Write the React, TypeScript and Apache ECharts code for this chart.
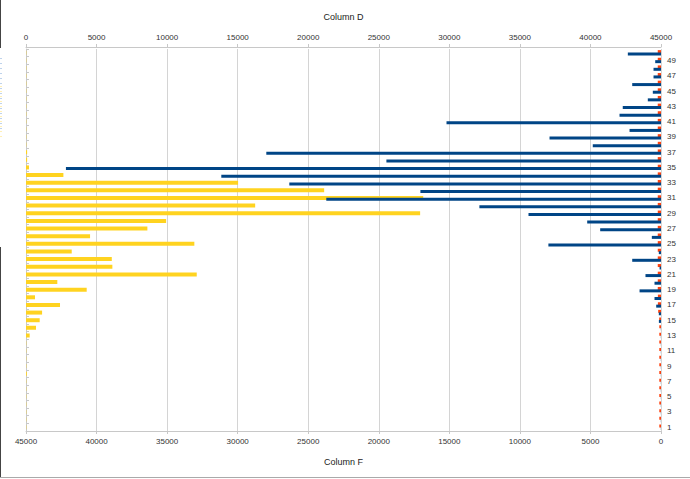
import React, { useEffect, useRef } from "react";
import * as echarts from "echarts";

const categories = [
  "1", "2", "3", "4", "5", "6", "7", "8", "9", "10",
  "11", "12", "13", "14", "15", "16", "17", "18", "19", "20",
  "21", "22", "23", "24", "25", "26", "27", "28", "29", "30",
  "31", "32", "33", "34", "35", "36", "37", "38", "39", "40",
  "41", "42", "43", "44", "45", "46", "47", "48", "49", "50",
];

// Column D (top axis, yellow)
const columnD = [
  20, 20, 20, 20, 20, 20, 20, 60, 20, 20,
  20, 20, 260, 710, 970, 1140, 2410, 640, 4300, 2220,
  12100, 6120, 6080, 3240, 11930, 4540, 8600, 9930, 27930, 16240,
  28150, 21130, 15030, 2650, 210, 80, 80, 20, 20, 20,
  20, 20, 20, 20, 20, 20, 20, 20, 20, 20,
];

// Column F (bottom axis, blue)
const columnF = [
  10, 10, 10, 10, 10, 10, 10, 10, 10, 10,
  10, 10, 10, 10, 150, 155, 340, 460, 1520, 460,
  1100, 100, 2040, 155, 7980, 650, 4310, 5230, 9390, 12870,
  23720, 17050, 26340, 31160, 42170, 19460, 27970, 4835, 7900, 2230,
  15200, 2940, 2710, 935, 580, 2040, 530, 530, 410, 2350,
];

// Column E (bottom axis, red)
const columnE = [
  120, 120, 120, 120, 120, 120, 120, 120, 120, 120,
  120, 120, 120, 120, 130, 200, 220, 220, 230, 230,
  230, 230, 230, 230, 230, 230, 230, 230, 230, 230,
  230, 230, 230, 230, 230, 230, 230, 230, 230, 230,
  230, 230, 230, 230, 230, 230, 230, 230, 230, 230,
];

const FONT = "'Liberation Sans', Arial, sans-serif";

export default function App() {
  const ref = useRef<HTMLDivElement>(null);
  useEffect(() => {
    if (!ref.current) return;
    const chart = echarts.init(ref.current, undefined, { renderer: "svg" });
    const axisLabel = {
      color: "#333",
      fontSize: 8,
      fontFamily: FONT,
      formatter: (v: number | string) => String(v),
    };
    chart.setOption({
      animation: false,
      backgroundColor: "#fff",
      grid: { left: 26, right: 29, top: 49, bottom: 48, containLabel: false },
      xAxis: [
        {
          type: "value",
          position: "top",
          offset: 2,
          min: 0,
          max: 45000,
          interval: 5000,
          name: "Column D",
          nameLocation: "middle",
          nameGap: 26,
          nameTextStyle: { color: "#222", fontSize: 9, fontFamily: FONT },
          axisLine: { show: true, lineStyle: { color: "#c8c8c8" } },
          axisTick: { show: true, length: 3, lineStyle: { color: "#c8c8c8" } },
          axisLabel: { ...axisLabel, margin: 6 },
          splitLine: { show: true, lineStyle: { color: "#d4d4d4" } },
        },
        {
          type: "value",
          position: "bottom",
          inverse: true,
          min: 0,
          max: 45000,
          interval: 5000,
          name: "Column F",
          nameLocation: "middle",
          nameGap: 26,
          nameTextStyle: { color: "#222", fontSize: 9, fontFamily: FONT },
          axisLine: { show: true, lineStyle: { color: "#c8c8c8" } },
          axisTick: { show: true, length: 3, lineStyle: { color: "#c8c8c8" } },
          axisLabel: { ...axisLabel, margin: 6 },
          splitLine: { show: false },
        },
      ],
      yAxis: [
        {
          type: "category",
          position: "right",
          data: categories,
          axisLine: { show: true, lineStyle: { color: "#c8c8c8" } },
          axisTick: { show: true, length: 3, interval: 0, lineStyle: { color: "#c8c8c8" } },
          axisLabel: { color: "#333", fontSize: 8, fontFamily: FONT, interval: 1, margin: 6 },
          splitLine: { show: false },
        },
        {
          type: "category",
          position: "right",
          data: categories,
          show: false,
        },
      ],
      series: [
        {
          name: "Column D",
          type: "bar",
          xAxisIndex: 0,
          yAxisIndex: 0,
          data: columnD,
          barWidth: 4,
          itemStyle: { color: "#ffd320" },
        },
        {
          name: "Column E",
          type: "bar",
          xAxisIndex: 1,
          yAxisIndex: 1,
          data: columnE,
          barWidth: 3,
          barGap: "-20%",
          itemStyle: { color: "#ff420e" },
        },
        {
          name: "Column F",
          type: "bar",
          xAxisIndex: 1,
          yAxisIndex: 1,
          data: columnF,
          barWidth: 3,
          barGap: "-20%",
          itemStyle: { color: "#004586" },
        },
      ],
      graphic: [
        { type: "line", shape: { x1: 0.5, y1: 0, x2: 0.5, y2: 48 }, style: { stroke: "#444", lineWidth: 1 } },
        { type: "line", shape: { x1: 0.5, y1: 247, x2: 0.5, y2: 478 }, style: { stroke: "#444", lineWidth: 1 } },
        { type: "line", shape: { x1: 0, y1: 477.5, x2: 690, y2: 477.5 }, style: { stroke: "#aaa", lineWidth: 1 } },
        { type: "line", shape: { x1: 1, y1: 58, x2: 1, y2: 133 }, style: { stroke: "#7fa6d8", lineWidth: 1, lineDash: [1, 4] } },
        { type: "line", shape: { x1: 1, y1: 86, x2: 1, y2: 137 }, style: { stroke: "#ffe070", lineWidth: 1, lineDash: [1, 4] } },
      ],
    });
    return () => chart.dispose();
  }, []);
  return <div ref={ref} style={{ width: 690, height: 479, position: "absolute", left: 0, top: 0 }} />;
}
